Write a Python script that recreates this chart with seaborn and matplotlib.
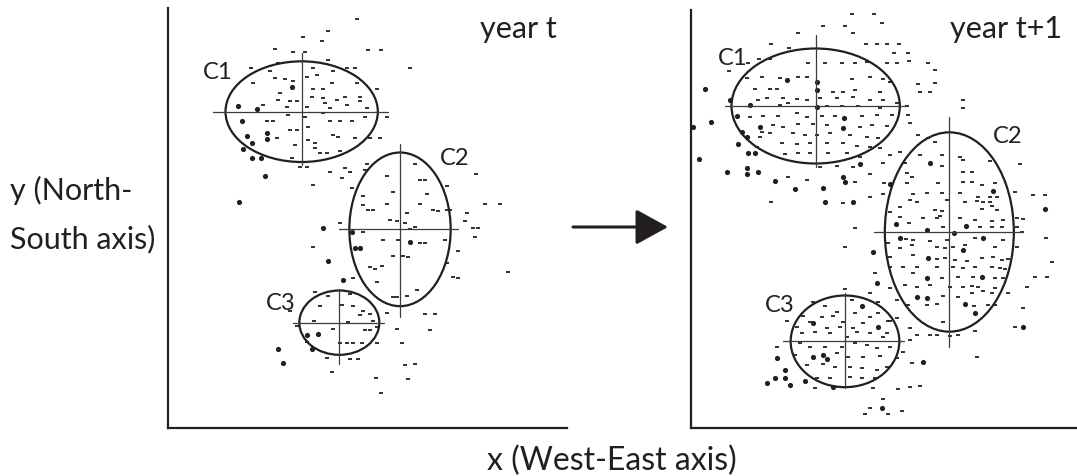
import numpy as np
import pandas as pd
import matplotlib
matplotlib.use("Agg")
import matplotlib.pyplot as plt
from matplotlib.patches import Ellipse, FancyArrowPatch
import seaborn as sns

# ---------------- data (panel units: 3 units per image pixel, y grows downward) -------------
LEFT_DASHES = [(590,57),(505,92),(430,112),(487,123),(345,147),(400,157),(435,157),(625,150),(663,150),(750,203),
    (272,203),(355,188),(460,205),(505,180),(520,213),(560,205),(585,205),
    (330,213),(345,233),(375,238),(400,243),(440,232),(470,225),(515,248),(590,248),(650,268),(280,248),(360,278),
    (460,268),(490,268),(355,300),(390,302),(410,302),(455,290),(490,295),(530,300),(555,290),(600,290),(600,303),
    (310,315),(380,322),(440,322),(495,310),(510,325),(560,315),(620,323),(320,362),(340,362),(385,345),(435,352),
    (490,340),(510,362),(540,362),(575,362),(615,350),(680,352),(350,415),(390,390),(410,390),(445,380),(520,405),
    (535,410),(585,415),(630,413),(660,413),(405,435),(445,420),(465,430),(465,445),(480,460),(500,460),(540,452),
    (395,473),(420,500),(440,500),
    (460,555),(510,515),(555,505),(570,515),(545,535),(620,492),(615,510),(948,522),
    (765,493),(680,528),(780,540),(795,540),(575,563),(860,557),(700,575),(608,588),(800,583),(610,614),(625,630),
    (640,630),(680,613),(740,638),(780,612),(820,630),(835,632),(860,630),(870,630),(690,660),(710,663),(735,668),
    (765,680),(750,688),(922,638),(975,613),(1020,613),(915,662),(940,685),(955,685),(945,712),(540,668),(610,697),
    (670,720),(715,720),(780,728),(795,730),(855,720),(893,752),(458,740),(700,768),(730,768),(745,772),(630,802),
    (645,807),(665,798),(860,788),(1043,815),(580,835),(650,845),(880,830),(895,833),(770,870),(700,892),(710,892),
    (740,888),(795,942),(825,942),
    (465,877),(505,887),(570,882),(390,932),(480,918),(545,915),(580,918),(610,932),(630,942),(600,945),(680,938),
    (463,962),(565,965),(640,962),(650,982),(630,990),(615,990),(520,988),(410,978),(710,987),(810,990),(440,1025),
    (540,1030),(560,1030),(580,1030),(605,1030),(650,1030),(725,1030),(500,1073),(570,1077),(595,1077),(735,1095),
    (765,1093),(515,1115),(648,1135),(745,1137),(663,1180)]
LEFT_DOTS = [(395,262),(235,318),(292,328),(245,362),(262,408),(322,400),(320,418),(275,428),(250,447),(277,473),
    (303,473),(315,528),(238,607),(490,683),(575,697),(585,743),(600,745),(750,727),(505,782),(550,840),(440,1005),
    (475,1003),(355,1048),(455,1048),(370,1090)]

RIGHT_DASHES = [(545,43),(612,43),(525,78),(460,78),(550,100),(635,68),(385,100),(303,133),(358,143),(588,133),
    (620,133),(650,133),(688,133),(672,160),(715,158),(718,183),(680,190),(650,190),(590,187),(555,188),(515,190),
    (465,190),(415,190),(300,178),(268,178),(235,188),(775,188),(795,210),(178,213),(230,235),(275,230),(330,233),
    (385,230),(410,230),(545,238),(600,230),(640,238),(660,245),(745,253),(795,248),(780,275),(750,275),(255,268),
    (300,268),(320,268),(490,275),(520,275),(555,270),(630,275),(265,300),(290,293),(340,293),(380,296),(410,300),
    (450,293),(500,295),(550,290),(600,300),(640,300),(330,315),(355,310),(470,318),(515,318),(565,318),(630,325),
    (680,310),(712,318),(878,300),(878,325),(240,350),(280,348),(325,348),(380,340),(410,350),(455,348),(495,348),
    (575,348),(620,345),(665,345),(715,345),(720,370),(310,375),(340,380),(385,372),(430,372),(470,375),(570,380),
    (605,375),(650,378),(275,395),(300,400),(370,400),(405,405),(440,405),(480,400),(540,405),(590,410),(625,415),
    (270,410),(745,405),(775,415),(260,440),(335,430),(380,432),(420,430),(470,428),(520,430),(560,438),(600,440),
    (630,445),(690,455),(345,463),(385,460),(420,460),(475,460),(530,458),(570,470),(660,465),(450,500),(500,498),
    (550,500),(640,490),(705,490),(355,530),(410,540),(555,545),(600,523),(643,548),(303,605),(520,610),(600,590),
    (640,583),(555,683),(525,740),
    (795,425),(750,465),(815,465),(815,498),(870,470),(880,480),(960,483),(1050,493),(710,520),(725,530),(710,550),
    (805,548),(880,515),(905,517),(880,545),(905,545),(935,555),(975,550),(1035,575),(730,583),(770,580),(815,580),
    (830,600),(870,580),(925,590),(960,590),(980,590),(1090,585),(1125,585),(720,600),(740,605),(885,605),(920,602),
    (940,605),(960,605),(965,618),(795,630),(815,633),(810,648),(690,620),(935,628),(980,630),(660,635),(690,650),
    (760,655),(800,655),(870,655),(915,660),(965,662),(1000,660),(1040,655),(1060,658),(718,668),(820,680),(930,680),
    (965,680),(995,680),(1040,680),(1055,695),(708,718),(730,720),(780,722),(830,720),(850,740),(885,735),(915,715),
    (1000,720),(1128,715),(655,730),(690,745),(725,735),(800,742),(825,745),(975,740),(1040,740),(660,770),(730,765),
    (800,778),(825,775),(855,780),(890,782),(935,775),(970,770),(995,780),(1015,778),(1145,785),(660,800),(700,800),
    (740,800),(800,800),(850,800),(880,805),(915,800),(965,800),(990,805),(1005,807),(1095,830),(1130,830),(615,818),
    (730,818),(815,835),(865,830),(910,830),(975,833),(1000,833),(660,865),(705,855),(740,860),(780,855),(840,862),
    (880,862),(905,858),(925,860),(975,865),(1070,862),(820,888),(865,890),(905,878),(940,872),(965,878),(1015,880),
    (600,880),(680,900),(715,915),(770,915),(800,913),(913,918),(955,915),(975,915),(1060,925),(655,963),(820,965),
    (1035,980),(720,985),(780,1005),(800,1005),(840,1008),(865,1005),(915,993),(920,1070),
    (525,868),(625,905),(545,900),(465,918),(430,905),(500,935),(350,963),(400,948),(420,965),(455,950),(490,948),
    (520,965),(555,940),(600,952),(625,940),(660,963),(680,955),(380,982),(470,985),(510,980),(550,983),(580,970),
    (650,1000),(395,1000),(435,995),(480,1000),(530,1010),(560,995),(600,1000),(640,1010),(720,1020),(740,1005),
    (320,1040),(390,1030),(420,1040),(465,1040),(515,1040),(555,1030),(590,1035),(620,1045),(660,1040),(700,1055),
    (375,1065),(500,1060),(535,1072),(580,1070),(630,1068),(680,1075),(725,1090),(410,1095),(460,1092),(495,1100),
    (540,1100),(575,1105),(620,1110),(650,1100),(440,1135),(480,1135),(540,1130),(575,1135),(615,1135),(435,1165),
    (540,1162),(610,1165),(685,1168),(720,1160),(750,1157),(640,1198),(600,1225),(655,1243),(695,1233),(585,1243)]
RIGHT_DOTS = [(350,240),(440,245),(105,268),(440,270),(180,300),(240,315),(440,320),(200,348),(522,355),(123,365),
    (68,380),(270,380),(520,385),(215,395),(230,410),(205,432),(235,460),(255,460),(570,492),(88,478),(230,505),
    (170,517),(230,522),(265,515),(315,543),(375,568),(460,565),(520,530),(525,545),(465,605),(550,605),
    (780,490),(660,553),(970,572),(1125,628),(677,672),(770,690),(853,700),(888,678),(690,715),(940,715),(608,755),
    (880,750),(775,775),(770,835),(935,832),(620,850),(740,890),(770,893),(885,912),(915,940),(1060,980),
    (575,918),(430,968),(625,980),(320,1075),(430,1070),(460,1065),(470,1078),(760,1085),(345,1110),(290,1150),
    (315,1135),(345,1135),(360,1155),(405,1142),(490,1162),(635,1225)]

# clusters: name, centre x, centre y, width, height, horizontal cross (x0, x1), vertical cross (y0, y1)
LEFT_CLUSTERS = [("C1", 425, 335, 457, 302, (160, 685), (160, 495)),
                 ("C2", 720, 688, 304, 461, (537, 893), (432, 950)),
                 ("C3", 538, 968, 240, 193, (400, 672), (867, 1092))]
RIGHT_CLUSTERS = [("C1", 437, 318, 505, 345, (165, 712), (105, 500)),
                  ("C2", 838, 696, 387, 598, (612, 1058), (350, 1040)),
                  ("C3", 525, 1024, 326, 275, (338, 702), (880, 1165))]
LEFT_LABELS = [("C1", 130, 237), ("C2", 840, 495), ("C3", 318, 930)]
RIGHT_LABELS = [("C1", 145, 195), ("C2", 970, 430), ("C3", 285, 935)]
PANEL_TITLES = ["year t", "year t+1"]
X_LABEL = "x (West-East axis)"
Y_LABEL_LINES = ["y (North-", "South axis)"]

# ---------------- styling ----------------
sns.set_theme(style="white")
plt.rcParams["font.family"] = ["Lato", "DejaVu Sans"]
INK = "#231f20"

W, H = 1077, 476
fig = plt.figure(figsize=(W / 100, H / 100), dpi=100)
fig.patch.set_facecolor("white")

ax_l = fig.add_axes([168 / W, (H - 428) / H, 399 / W, 420 / H])
ax_r = fig.add_axes([691 / W, (H - 428) / H, 386 / W, 418 / H])


def draw_panel(ax, dashes, dots, clusters, labels, title, title_xy, xlim, ylim):
    dd = pd.DataFrame(dashes, columns=["x", "y"])
    dt = pd.DataFrame(dots, columns=["x", "y"])
    sns.scatterplot(data=dd, x="x", y="y", ax=ax, marker="_", s=6, linewidth=1.3,
                    color=INK, clip_on=False, zorder=3)
    sns.scatterplot(data=dt, x="x", y="y", ax=ax, marker="o", s=14, linewidth=0,
                    color=INK, clip_on=False, zorder=3)
    for name, cx, cy, w, h, hx, vy in clusters:
        ax.add_patch(Ellipse((cx, cy), w, h, fill=False, edgecolor=INK, linewidth=1.6, zorder=4))
        ax.plot(hx, [cy, cy], color="#3c3c3c", linewidth=0.9, zorder=4)
        ax.plot([cx, cx], vy, color="#3c3c3c", linewidth=0.9, zorder=4)
    for name, lx, ly in labels:
        ax.text(lx, ly, name, fontsize=17, color=INK, ha="left", va="baseline")
    ax.text(title_xy[0], title_xy[1], title, fontsize=22, color=INK, ha="left", va="baseline")
    ax.set_xlim(*xlim)
    ax.set_ylim(*ylim)
    ax.set_xticks([])
    ax.set_yticks([])
    ax.set_xlabel("")
    ax.set_ylabel("")
    ax.set_facecolor("none")
    for s in ("top", "right"):
        ax.spines[s].set_visible(False)
    for s in ("left", "bottom"):
        ax.spines[s].set_visible(True)
        ax.spines[s].set_color(INK)
        ax.spines[s].set_linewidth(1.6)


draw_panel(ax_l, LEFT_DASHES, LEFT_DOTS, LEFT_CLUSTERS, LEFT_LABELS, PANEL_TITLES[0],
           (960, 115), (24, 1221), (1284, 24))
draw_panel(ax_r, RIGHT_DASHES, RIGHT_DOTS, RIGHT_CLUSTERS, RIGHT_LABELS, PANEL_TITLES[1],
           (840, 115), (63, 1221), (1284, 30))

# arrow between panels
arrow = FancyArrowPatch((573 / W, 1 - 227 / H), (668 / W, 1 - 227 / H), transform=fig.transFigure,
                        arrowstyle="-|>,head_length=1.0,head_width=0.55", mutation_scale=20,
                        linewidth=2.2, color=INK, shrinkA=0, shrinkB=0)
fig.add_artist(arrow)

fig.text(612 / W, 1 - 470 / H, X_LABEL, fontsize=23, color=INK, ha="center", va="baseline")
fig.text(10 / W, 1 - 200 / H, Y_LABEL_LINES[0], fontsize=22, color=INK, ha="left", va="baseline")
fig.text(10 / W, 1 - 248 / H, Y_LABEL_LINES[1], fontsize=22, color=INK, ha="left", va="baseline")

fig.savefig("out.png", dpi=100, facecolor="white")
